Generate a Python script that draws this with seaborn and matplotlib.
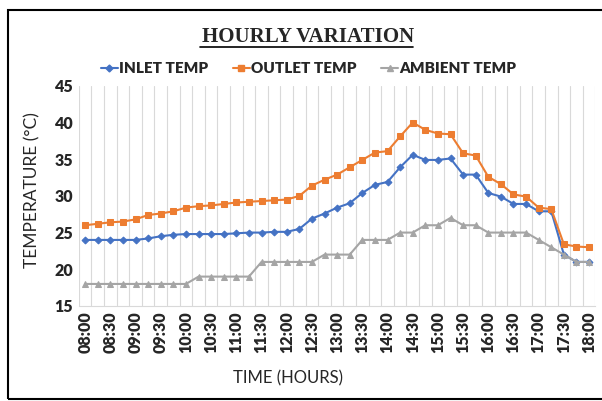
import numpy as np
import pandas as pd
import matplotlib
matplotlib.use('Agg')
import matplotlib.pyplot as plt
import seaborn as sns
from matplotlib.patches import Rectangle
from matplotlib.lines import Line2D

# time every 15 minutes from 08:00 to 18:00
times = [f"{8 + m // 60:02d}:{m % 60:02d}" for m in range(0, 601, 15)]

inlet = [24, 24, 24, 24, 24, 24.2, 24.5, 24.7, 24.8, 24.8, 24.8, 24.8, 24.9, 25.0,
         25.0, 25.1, 25.1, 25.5, 26.9, 27.6, 28.4, 29.0, 30.4, 31.5, 31.9, 33.9,
         35.6, 34.9, 34.9, 35.1, 32.9, 32.9, 30.4, 29.9, 28.9, 28.9, 27.9, 27.9,
         22, 21, 21]
outlet = [26.0, 26.2, 26.4, 26.5, 26.8, 27.4, 27.6, 27.9, 28.4, 28.6, 28.7, 28.9,
          29.1, 29.2, 29.3, 29.4, 29.5, 30.0, 31.4, 32.2, 32.9, 33.9, 34.9, 35.9,
          36.1, 38.1, 40.0, 39.0, 38.5, 38.4, 35.8, 35.5, 32.6, 31.6, 30.2, 29.9,
          28.4, 28.2, 23.4, 23.1, 23.0]
ambient = [18, 18, 18, 18, 18, 18, 18, 18, 18, 19, 19, 19, 19, 19, 21, 21, 21, 21,
           21, 22, 22, 22, 24, 24, 24, 25, 25, 26, 26, 27, 26, 26, 25, 25, 25, 25,
           24, 23, 22, 21, 21]

series = ["INLET TEMP", "OUTLET TEMP", "AMBIENT TEMP"]
colors = ["#4472C4", "#ED7D31", "#A5A5A5"]
markers = ["D", "s", "^"]
msizes = [3.5, 5, 5]

df = pd.DataFrame({"idx": np.arange(len(times)), "INLET TEMP": inlet,
                   "OUTLET TEMP": outlet, "AMBIENT TEMP": ambient})
long = df.melt(id_vars="idx", var_name="series", value_name="temp")

sns.set_style("white")
plt.rcParams['font.family'] = ['Lato', 'DejaVu Sans']

fig = plt.figure(figsize=(6.02, 4.01), dpi=100)
ax = fig.add_axes([0.131, 0.237, 0.858, 0.549])

for name, c, m, ms in zip(series, colors, markers, msizes):
    sub = long[long["series"] == name]
    sns.lineplot(data=sub, x="idx", y="temp", color=c, marker=m, markersize=ms,
                 markeredgecolor=c, linewidth=1.5, ax=ax, legend=False)

ax.set_xlim(-0.5, len(times) - 0.5)
ax.set_ylim(15, 45)
ax.set_yticks(range(15, 46, 5))
ax.set_xticks(range(0, len(times), 2))
ax.set_xticklabels(times[::2], rotation=90, fontweight='heavy', fontsize=11.5)
for t in ax.get_yticklabels():
    t.set_fontweight('heavy')
    t.set_fontsize(11.5)
ax.set_xticks(np.arange(-0.5, len(times), 1), minor=True)
ax.grid(True, which='minor', axis='x', color='#D9D9D9', linewidth=0.8)
ax.grid(False, which='major')
ax.tick_params(axis='both', which='both', length=0, pad=4)
for s in ['top', 'right', 'left']:
    ax.spines[s].set_visible(False)
ax.spines['bottom'].set_color('#D9D9D9')
ax.set_xlabel("")
ax.set_ylabel("")
fig.text(0.478, 0.057, "TIME (HOURS)", ha='center', va='center', fontsize=12)
fig.text(0.053, 0.526, "TEMPERATURE (°C)", ha='center', va='center', fontsize=12.5,
         rotation=90)

fig.text(0.511, 0.908, "HOURLY VARIATION", ha='center', va='center', fontsize=15,
         fontweight='bold', family='Liberation Serif')
fig.add_artist(Line2D([0.333, 0.686], [0.884, 0.884], color='black', lw=1.2))

handles = [Line2D([], [], color=c, marker=m, markersize=ms, lw=1.5) for c, m, ms in zip(colors, markers, msizes)]
fig.legend(handles, series, loc='center', bbox_to_anchor=(0.513, 0.828), ncol=3,
           frameon=False, prop={'weight': 'heavy', 'size': 11}, handlelength=1.1,
           handletextpad=0.1, columnspacing=1.6)

fig.add_artist(Rectangle((0.013, 0.005), 1.2, 0.97, transform=fig.transFigure,
                         fill=False, edgecolor='black', lw=1.5))

fig.savefig("out.png", dpi=100)
